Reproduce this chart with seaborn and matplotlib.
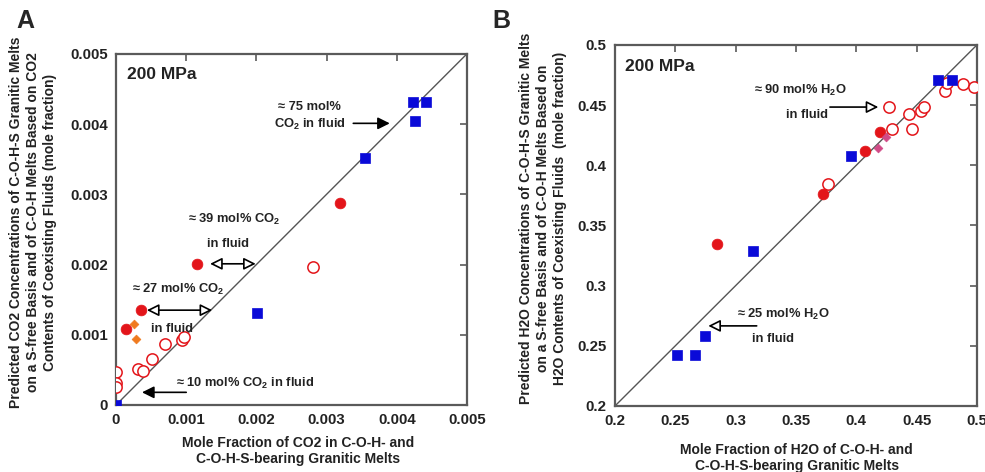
import matplotlib
matplotlib.use("Agg")
import matplotlib.pyplot as plt
import seaborn as sns

# Panel A: CO2 mole fractions (measured vs. predicted)
a_blue_x = [0.0, 0.00201, 0.00354, 0.00423, 0.00426, 0.00442]
a_blue_y = [0.0, 0.00131, 0.00352, 0.00431, 0.00405, 0.00431]
a_red_x = [0.00014, 0.00036, 0.00116, 0.00319]
a_red_y = [0.00108, 0.00135, 0.00201, 0.00287]
a_open_x = [0.0, 0.0, 0.0, 0.00031, 0.00039, 0.00051, 0.00070, 0.00094, 0.00097, 0.00281]
a_open_y = [0.00047, 0.00032, 0.00026, 0.00051, 0.00048, 0.00065, 0.00087, 0.00093, 0.00097, 0.00196]
a_orange_x = [0.00026, 0.00029]
a_orange_y = [0.00116, 0.00094]
a_ticks = [0, 0.001, 0.002, 0.003, 0.004, 0.005]

# Panel B: H2O mole fractions (measured vs. predicted)
b_blue_x = [0.2516, 0.2665, 0.2748, 0.3146, 0.3955, 0.4674, 0.4790]
b_blue_y = [0.2421, 0.2421, 0.2582, 0.3286, 0.4080, 0.4709, 0.4709]
b_red_x = [0.2848, 0.3721, 0.4074, 0.4198]
b_red_y = [0.3347, 0.3761, 0.4116, 0.4274]
b_open_x = [0.3762, 0.4273, 0.4292, 0.4433, 0.4461, 0.4533, 0.4563, 0.4734, 0.4748, 0.4880, 0.4977]
b_open_y = [0.3842, 0.4482, 0.4299, 0.4424, 0.4299, 0.4454, 0.4482, 0.4620, 0.4680, 0.4676, 0.4648]
b_pink_x = [0.4182, 0.4245]
b_pink_y = [0.4141, 0.4238]
b_ticks = [0.2, 0.25, 0.3, 0.35, 0.4, 0.45, 0.5]

sns.set_theme(style="white")
plt.rcParams["font.family"] = ["Liberation Sans", "DejaVu Sans"]
plt.rcParams["font.weight"] = "bold"
plt.rcParams["mathtext.fontset"] = "custom"
plt.rcParams["mathtext.rm"] = "Liberation Sans:bold"
plt.rcParams["mathtext.it"] = "Liberation Sans:bold"
plt.rcParams["mathtext.bf"] = "Liberation Sans:bold"

BLUE = "#0a0ad8"
RED = "#e3151a"
ORANGE = "#f07a1e"
PINK = "#d14a86"
FRAME = "#5a5a5a"
INK = "#222222"

fig = plt.figure(figsize=(9.85, 4.72), dpi=100)
axA = fig.add_axes([0.1178, 0.142, 0.3563, 0.744])
axB = fig.add_axes([0.6244, 0.140, 0.3675, 0.765])


def style_axes(ax, ticks, lim):
    ax.set_xlim(*lim)
    ax.set_ylim(*lim)
    ax.set_xticks(ticks)
    ax.set_yticks(ticks)
    labels = [f"{t:g}" for t in ticks]
    ax.set_xticklabels(labels)
    ax.set_yticklabels(labels)
    ax.tick_params(direction="in", length=5, width=1.2, color=FRAME,
                   top=True, right=True, labelsize=10.8, pad=6)
    for lab in ax.get_xticklabels() + ax.get_yticklabels():
        lab.set_fontweight("bold")
        lab.set_color(INK)
    for sp in ax.spines.values():
        sp.set_color(FRAME)
        sp.set_linewidth(1.6)
    ax.axline((lim[0], lim[0]), (lim[1], lim[1]), color="#555555", lw=1.0, zorder=1)


def draw_points(ax, blue, red, opn, dia, dia_color):
    sns.scatterplot(x=opn[0], y=opn[1], marker="o", s=66, color="white",
                    edgecolor=RED, linewidth=1.1, ax=ax, zorder=3)
    sns.scatterplot(x=blue[0], y=blue[1], marker="s", s=55, color=BLUE,
                    edgecolor=BLUE, linewidth=0.5, ax=ax, zorder=4)
    sns.scatterplot(x=red[0], y=red[1], marker="o", s=60, color=RED,
                    edgecolor=RED, linewidth=0.5, ax=ax, zorder=4)
    sns.scatterplot(x=dia[0], y=dia[1], marker="D", s=20, color=dia_color,
                    edgecolor=dia_color, linewidth=0.5, ax=ax, zorder=4)


def arrow(ax, start, end, style, fc):
    ax.annotate("", xy=end, xytext=start,
                arrowprops=dict(arrowstyle=style + ",head_length=0.6,head_width=0.3",
                                color="black", fc=fc, lw=1.2, shrinkA=0, shrinkB=0),
                zorder=5)


def axis_titles(ax, xlabel, xpos, ylabel, ypos):
    ax.text(xpos[0], xpos[1], xlabel, transform=ax.transAxes, fontsize=10,
            fontweight="bold", color=INK, ha="center", va="center", linespacing=1.2)
    ax.text(ypos[0], ypos[1], ylabel, transform=ax.transAxes, fontsize=10,
            fontweight="bold", color=INK, ha="center", va="center",
            rotation=90, linespacing=1.25)


TXT = dict(fontsize=9.3, fontweight="bold", color=INK, ha="center", va="center")

# ---------- Panel A ----------
style_axes(axA, a_ticks, (0, 0.005))
draw_points(axA, (a_blue_x, a_blue_y), (a_red_x, a_red_y),
            (a_open_x, a_open_y), (a_orange_x, a_orange_y), ORANGE)
axA.text(0.032, 0.94, "200 MPa", transform=axA.transAxes, fontsize=12.5,
         fontweight="bold", ha="left", va="center", color=INK)
axA.text(0.00276, 0.00424, "≈ 75 mol%", **TXT)
axA.text(0.00276, 0.00400, "CO$_2$ in fluid", **TXT)
arrow(axA, (0.00338, 0.00401), (0.00390, 0.00401), "-|>", "black")
axA.text(0.00168, 0.00264, "≈ 39 mol% CO$_2$", **TXT)
axA.text(0.00160, 0.00229, "in fluid", **TXT)
arrow(axA, (0.00134, 0.00201), (0.00199, 0.00201), "<|-|>", "white")
axA.text(0.00089, 0.00164, "≈ 27 mol% CO$_2$", **TXT)
axA.text(0.00080, 0.00108, "in fluid", **TXT)
arrow(axA, (0.00044, 0.00135), (0.00137, 0.00135), "<|-|>", "white")
axA.text(0.00184, 0.00030, "≈ 10 mol% CO$_2$ in fluid", **TXT)
arrow(axA, (0.00100, 0.00018), (0.00037, 0.00018), "-|>", "black")

axis_titles(axA,
            "Mole Fraction of CO2 in C-O-H- and\nC-O-H-S-bearing Granitic Melts",
            (0.518, -0.131),
            "Predicted CO2 Concentrations of C-O-H-S Granitic Melts\n"
            "on a S-free Basis and of C-O-H Melts Based on CO2\n"
            "Contents of Coexisting Fluids (mole fraction)",
            (-0.236, 0.52))

# ---------- Panel B ----------
style_axes(axB, b_ticks, (0.2, 0.5))
draw_points(axB, (b_blue_x, b_blue_y), (b_red_x, b_red_y),
            (b_open_x, b_open_y), (b_pink_x, b_pink_y), PINK)
axB.text(0.028, 0.94, "200 MPa", transform=axB.transAxes, fontsize=12.5,
         fontweight="bold", ha="left", va="center", color=INK)
axB.text(0.3533, 0.4618, "≈ 90 mol% H$_2$O", **TXT)
axB.text(0.3590, 0.4419, "in fluid", **TXT)
arrow(axB, (0.3781, 0.4483), (0.4182, 0.4483), "-|>", "white")
axB.text(0.3392, 0.2756, "≈ 25 mol% H$_2$O", **TXT)
axB.text(0.3310, 0.2557, "in fluid", **TXT)
arrow(axB, (0.3174, 0.2665), (0.2773, 0.2665), "-|>", "white")

axis_titles(axB,
            "Mole Fraction of H2O of C-O-H- and\nC-O-H-S-bearing Granitic Melts",
            (0.502, -0.144),
            "Predicted H2O Concentrations of C-O-H-S Granitic Melts\n"
            "on a S-free Basis and of C-O-H Melts Based on\n"
            "H2O Contents of Coexisting Fluids  (mole fraction)",
            (-0.199, 0.52))

# Panel letters
fig.text(0.017, 0.955, "A", fontsize=18, fontweight="bold", ha="left", va="center")
fig.text(0.500, 0.955, "B", fontsize=18, fontweight="bold", ha="left", va="center")

fig.savefig("out.png", dpi=100, facecolor="white")
